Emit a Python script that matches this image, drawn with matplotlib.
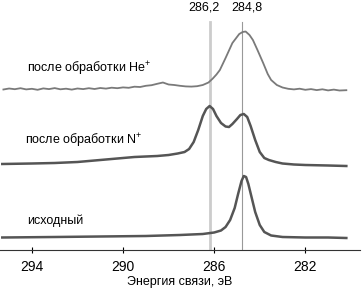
import matplotlib.pyplot as plt

plt.rcParams["font.family"] = ["Liberation Sans", "DejaVu Sans"]
plt.rcParams["mathtext.fontset"] = "custom"
plt.rcParams["mathtext.rm"] = "Liberation Sans"
plt.rcParams["mathtext.it"] = "Liberation Sans"

# XPS C1s spectra, binding energy (eV) and intensity (arb. units, stacked)
he_energy = [295.25, 295.0, 294.75, 294.5, 294.25, 294.0, 293.75, 293.5, 293.25, 293.0,
             292.75, 292.5, 292.25, 292.0, 291.75, 291.5, 291.25, 291.0, 290.75, 290.5,
             290.25, 290.0, 289.75, 289.5, 289.25, 289.0, 288.75, 288.5, 288.25, 288.0,
             287.75, 287.5, 287.25, 287.0, 286.75, 286.5, 286.25, 286.06, 285.9, 285.75,
             285.5, 285.2, 284.9, 284.75, 284.62, 284.45, 284.3, 284.1, 283.85, 283.65,
             283.5, 283.25, 283.0, 282.75, 282.5, 282.25, 282.0, 281.75, 281.5, 281.25,
             281.0, 280.75, 280.5, 280.2]
he_counts = [160.5, 161.5, 160.8, 161.8, 160.6, 161.2, 160.2, 161.6, 160.9, 161.9,
             160.7, 161.3, 160.4, 161.5, 160.9, 161.8, 161.0, 162.0, 161.4, 162.3,
             161.8, 162.6, 162.2, 163.3, 163.0, 164.2, 164.8, 166.2, 167.5, 165.5,
             165.0, 164.2, 163.6, 163.4, 163.8, 165.0, 167.5, 171.5, 175.5, 180.0,
             192.0, 207.0, 216.0, 218.0, 218.5, 215.0, 210.0, 200.0, 187.0, 176.0,
             170.0, 165.0, 162.5, 161.2, 160.6, 161.3, 160.2, 160.9, 159.9, 160.7,
             159.6, 160.4, 159.5, 159.8]

n_energy = [295.3, 294.0, 293.0, 292.0, 291.0, 290.0, 289.5, 289.0, 288.5, 288.0,
            287.6, 287.3, 287.1, 286.9, 286.7, 286.5, 286.35, 286.2, 286.05, 285.9,
            285.7, 285.5, 285.35, 285.2, 285.0, 284.85, 284.7, 284.55, 284.4, 284.2,
            284.0, 283.8, 283.6, 283.3, 283.0, 282.5, 282.0, 281.0, 280.2]
n_counts = [86.0, 86.5, 87.0, 88.0, 90.0, 92.0, 93.0, 93.5, 94.0, 95.0,
            96.5, 98.0, 101.0, 108.0, 120.0, 134.0, 141.0, 144.0, 141.0, 134.0,
            127.0, 123.5, 123.0, 126.0, 131.0, 135.0, 136.0, 133.0, 124.0, 110.0,
            98.0, 92.0, 90.0, 88.0, 86.5, 85.5, 85.0, 84.5, 84.0]

orig_energy = [295.3, 293.0, 291.0, 289.0, 287.5, 286.5, 286.0, 285.7, 285.5, 285.3,
               285.1, 284.95, 284.8, 284.7, 284.6, 284.5, 284.35, 284.2, 284.0, 283.8,
               283.5, 283.0, 282.0, 281.0, 280.2]
orig_counts = [12.5, 13.0, 13.5, 14.0, 15.0, 16.0, 17.5, 19.5, 23.0, 30.0,
               42.0, 56.0, 69.0, 74.0, 73.0, 66.0, 52.0, 38.0, 25.0, 18.0,
               14.5, 13.0, 12.5, 12.5, 12.0]

peak_positions = [286.2, 284.8]
peak_labels = ["286,2", "284,8"]
x_ticks = [294, 290, 286, 282]

fig = plt.figure(figsize=(3.63, 2.97), dpi=100)
ax = fig.add_axes([0.0, 47 / 297, 360 / 363, 250 / 297])

# reference lines
ax.plot([peak_positions[0]] * 2, [0, 228], color="#cccccc", lw=2.0, zorder=1)
ax.plot([peak_positions[1]] * 2, [0, 228], color="#999999", lw=0.8, zorder=1)
ax.annotate(peak_labels[0], (peak_positions[0], 242), xytext=(-4, 0),
            textcoords="offset points", ha="center", va="center", fontsize=9)
ax.annotate(peak_labels[1], (peak_positions[1], 242), xytext=(4, 0),
            textcoords="offset points", ha="center", va="center", fontsize=9)

ax.plot(he_energy, he_counts, color="#7a7a7a", lw=1.3, zorder=2)
ax.plot(n_energy, n_counts, color="#555555", lw=1.8, zorder=2)
ax.plot(orig_energy, orig_counts, color="#555555", lw=1.8, zorder=2)

ax.text(294.2, 182, "после обработки He$^{+}$", fontsize=9, va="center")
ax.text(294.3, 110, "после обработки N$^{+}$", fontsize=9, va="center")
ax.text(294.2, 29, "исходный", fontsize=9, va="center")

ax.set_xlim(295.4, 279.6)
ax.set_ylim(0, 250)
ax.set_xticks(x_ticks)
ax.set_yticks([])
ax.tick_params(axis="x", direction="inout", length=5, labelsize=10, pad=5)
for s in ["top", "right", "left"]:
    ax.spines[s].set_visible(False)
ax.spines["bottom"].set_color("#333333")
ax.set_xlabel("Энергия связи, эВ", fontsize=9, labelpad=1)

fig.savefig("out.png", dpi=100)
